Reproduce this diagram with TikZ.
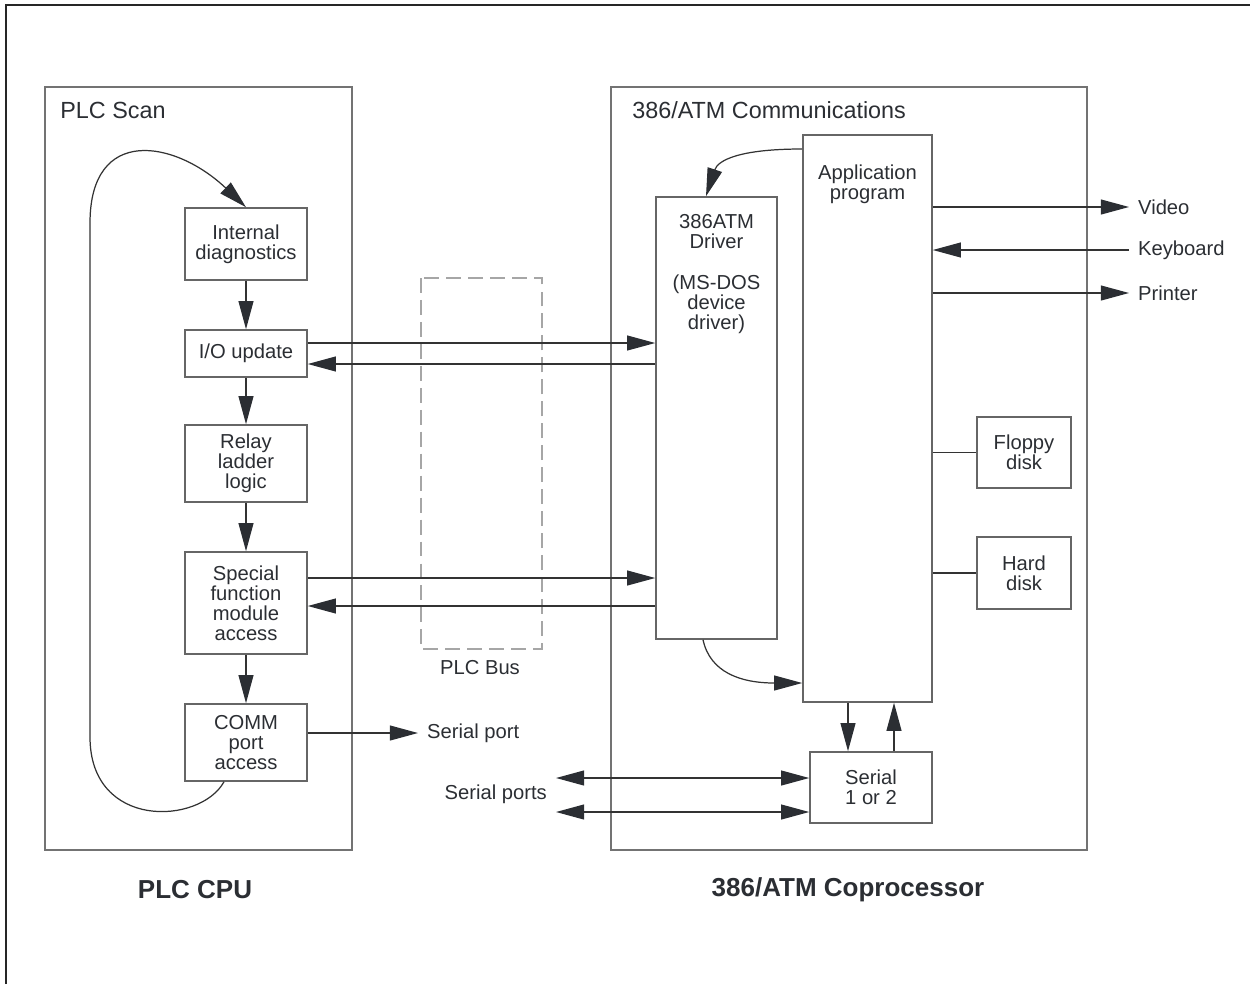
\documentclass[tikz,border=0pt]{standalone}
\usepackage{fontspec}
\setmainfont{Liberation Sans}
\usetikzlibrary{arrows.meta}
\definecolor{ink}{rgb}{0.17,0.18,0.2}

\begin{document}
\begin{tikzpicture}[x=0.02cm, y=-0.02cm, color=ink,
  font=\fontsize{11.5}{11.4}\selectfont,
  box/.style={draw=black!60, line width=0.9pt, align=center, inner sep=0pt},
  frame/.style={draw=black!55, line width=0.8pt},
  wire/.style={draw=black!80, line width=0.7pt},
  arw/.style={wire, -{Triangle[length=16pt, width=8.5pt, color=ink]}},
  twoarw/.style={wire, {Triangle[length=16pt, width=8.5pt, color=ink]}-{Triangle[length=16pt, width=8.5pt, color=ink]}},
  lbl/.style={inner ysep=1pt, inner xsep=5pt},
  title/.style={font=\fontsize{13.3}{14}\selectfont, inner sep=0pt, anchor=base west},
  caption/.style={font=\bfseries\fontsize{14.8}{16}\selectfont}]
\useasboundingbox (0,0) rectangle (1250,984);

% page frame
\draw[line width=1.6pt, black!85] (6,984) -- (6,5) -- (1250,5);

% PLC CPU
\draw[frame] (45,87) rectangle (352,850);
\node[title] (scan) at (60,118) {PLC Scan};
\node[box, minimum width=2.44cm, minimum height=1.44cm] (diag) at (246,244) {Internal\\diagnostics};
\node[box, minimum width=2.44cm, minimum height=0.94cm] (io) at (246,353.5) {I/O update};
\node[box, minimum width=2.44cm, minimum height=1.54cm] (relay) at (246,463.5) {Relay\\ladder\\logic};
\node[box, minimum width=2.44cm, minimum height=2.04cm] (sfm) at (246,603) {Special\\function\\module\\access};
\node[box, minimum width=2.44cm, minimum height=1.54cm] (comm) at (246,742.5) {COMM\\port\\access};
\draw[arw] (diag) -- (io);
\draw[arw] (io) -- (relay);
\draw[arw] (relay) -- (sfm);
\draw[arw] (sfm) -- (comm);

% scan loop
\draw[arw] (comm.south -| 224,0) .. controls (200,825) and (90,830) .. (90,737)
  -- (90,223) .. controls (90,125) and (175,140) .. (diag.north);

% PLC bus
\draw[black!35, line width=0.8pt, dash pattern=on 8.5pt off 4pt] (421,278) rectangle (542,649);
\node (bus) at (480,668) {PLC Bus};

% 386/ATM side
\draw[frame] (611,87) rectangle (1087,850);
\node[title] (comms) at (632,118) {386/ATM Communications};
\node[box, minimum width=2.42cm, minimum height=8.84cm,
  label={[anchor=north, yshift=-0.36cm, inner sep=0pt, align=center]north:{386ATM\\Driver\\[12pt](MS-DOS\\device\\driver)}}] (drv) at (716.5,418) {};
\node[box, minimum width=2.58cm, minimum height=11.34cm,
  label={[anchor=north, yshift=-0.6cm, inner sep=0pt, align=center]north:{Application\\program}}] (app) at (867.5,418.5) {};
\node[box, minimum width=2.44cm, minimum height=1.42cm] (ser) at (871,787.5) {Serial\\1 or 2};
\node[box, minimum width=1.88cm, minimum height=1.42cm] (floppy) at (1024,452.5) {Floppy\\disk};
\node[box, minimum width=1.88cm, minimum height=1.44cm] (hard) at (1024,573) {Hard\\disk};

% bus transfers
\draw[arw] (io.east |- 0,343) -- (drv.west |- 0,343);
\draw[arw] (drv.west |- 0,364) -- (io.east |- 0,364);
\draw[arw] (sfm.east |- 0,578) -- (drv.west |- 0,578);
\draw[arw] (drv.west |- 0,606) -- (sfm.east |- 0,606);

% driver <-> application
\draw[arw] (app.west |- 0,149) .. controls (740,149) and (718,160) .. (drv.north -| 706,0);
\draw[arw] (drv.south -| 703,0) .. controls (710,672) and (740,683) .. (app.west |- 0,683);

% peripherals
\node[lbl, anchor=west] (video) at (1129,207) {Video};
\node[lbl, anchor=west] (kbd) at (1129,250) {Keyboard};
\node[lbl, anchor=west] (prn) at (1129,293) {Printer};
\draw[arw] (app.east |- video.west) -- (video.west);
\draw[arw] (kbd.west) -- (app.east |- kbd.west);
\draw[arw] (app.east |- prn.west) -- (prn.west);
\draw[wire] (app.east |- floppy.west) -- (floppy.west);
\draw[wire] (app.east |- hard.west) -- (hard.west);

% serial
\draw[arw] (app.south -| 848,0) -- (ser.north -| 848,0);
\draw[arw] (ser.north -| 894,0) -- (app.south -| 894,0);
\coordinate (sp1) at (556,778);
\coordinate (sp2) at (556,812);
\draw[twoarw] (sp1) -- (ser.west |- sp1);
\draw[twoarw] (sp2) -- (ser.west |- sp2);
\node[lbl, anchor=east] (sports) at (556,794) {Serial ports};
\node[lbl, anchor=west] (sport) at (418,733) {Serial port};
\draw[arw] (comm.east |- sport.west) -- (sport.west);

\node[caption] (cpu) at (195,890) {PLC CPU};
\node[caption] (cop) at (848,890) {386/ATM Coprocessor};
\end{tikzpicture}
\end{document}
